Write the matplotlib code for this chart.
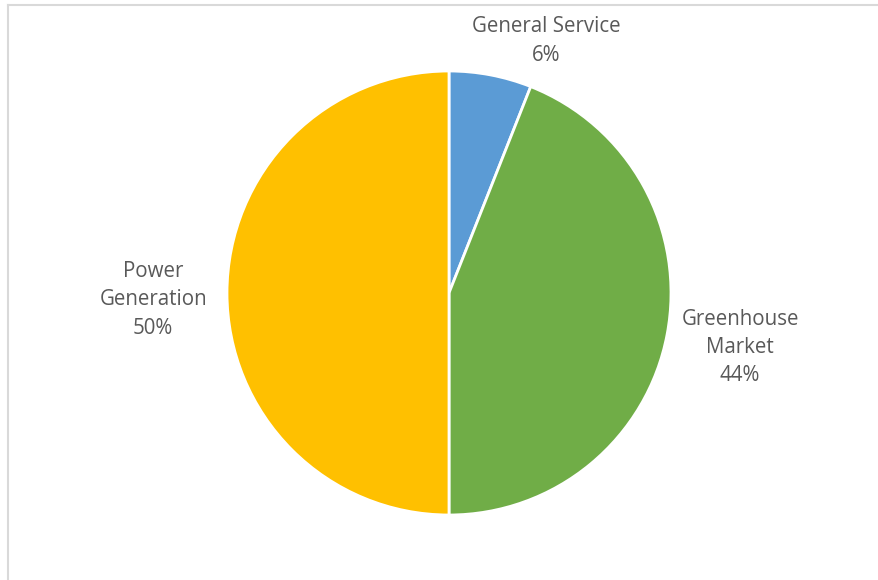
import matplotlib
matplotlib.use("Agg")
import matplotlib.pyplot as plt
from matplotlib.lines import Line2D

# Share of connections by segment
categories = ["General Service", "Greenhouse\nMarket", "Power\nGeneration"]
shares = [6, 44, 50]
colors = ["#5B9BD5", "#70AD47", "#FFC000"]

W, H = 879, 580
fig = plt.figure(figsize=(W / 100, H / 100), dpi=100)
fig.patch.set_facecolor("white")

# chart-area frame (light grey), top and left edges visible
fig.add_artist(Line2D([8 / W, 8 / W], [0, 1 - 5 / H], transform=fig.transFigure,
                      color="#D9D9D9", lw=1.5))
fig.add_artist(Line2D([8 / W, 1.01], [1 - 5 / H, 1 - 5 / H], transform=fig.transFigure,
                      color="#D9D9D9", lw=1.5))

cx, cy, r = 449, 293, 222
ax = fig.add_axes([(cx - r) / W, (H - cy - r) / H, 2 * r / W, 2 * r / H])
wedges, _ = ax.pie(shares, colors=colors, startangle=90, counterclock=False,
                   wedgeprops=dict(edgecolor="white", linewidth=2.0))
ax.set_xlim(-1, 1)
ax.set_ylim(-1, 1)
ax.set_aspect("auto")
ax.axis("off")

label_pos = [(0.437, 1.135), (1.311, -0.246), (-1.333, -0.030)]
font = dict(family=["Open Sans", "DejaVu Sans"], size=14.8, color="#595959")
for name, val, (lx, ly) in zip(categories, shares, label_pos):
    ax.text(lx, ly, f"{name}\n{val}%", ha="center", va="center",
            linespacing=1.46, clip_on=False, **font)

fig.savefig("out.png", dpi=100, facecolor="white")
